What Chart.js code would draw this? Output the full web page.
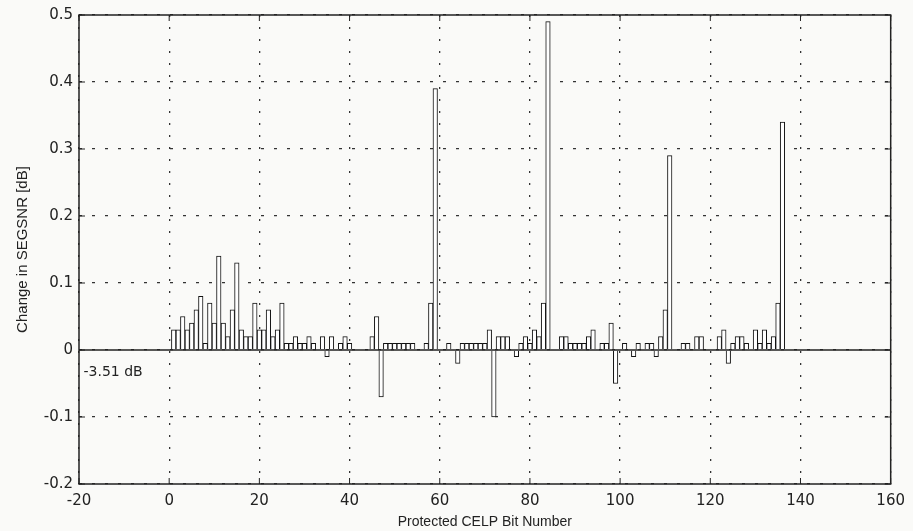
<!DOCTYPE html>
<html>
<head>
<meta charset="utf-8">
<script src="https://cdn.jsdelivr.net/npm/chart.js@4.4.1/dist/chart.umd.min.js"></script>
<style>
  html, body { margin: 0; padding: 0; background: #fafaf8; }
  #wrap { width: 913px; height: 531px; }
</style>
</head>
<body>
<div id="wrap"><canvas id="snrChart"></canvas></div>
<script>
// Protected CELP bit numbers (categories)
const bitNumbers = Array.from({ length: 136 }, (_, i) => i + 1);

// Change in SEGSNR [dB] per bit
const snrChange = [
    0.03, 0.03, 0.05, 0.03, 0.04, 0.06, 0.08, 0.01, 0.07, 0.04,   // 1-10
    0.14, 0.04, 0.02, 0.06, 0.13, 0.03, 0.02, 0.02, 0.07, 0.03,   // 11-20
    0.03, 0.06, 0.02, 0.03, 0.07, 0.01, 0.01, 0.02, 0.01, 0.01,   // 21-30
    0.02, 0.01, 0, 0.02, -0.01, 0.02, 0, 0.01, 0.02, 0.01,        // 31-40
    0, 0, 0, 0, 0.02, 0.05, -0.07, 0.01, 0.01, 0.01,              // 41-50
    0.01, 0.01, 0.01, 0.01, 0, 0, 0.01, 0.07, 0.39, 0,            // 51-60
    0, 0.01, 0, -0.02, 0.01, 0.01, 0.01, 0.01, 0.01, 0.01,        // 61-70
    0.03, -0.10, 0.02, 0.02, 0.02, 0, -0.01, 0.01, 0.02, 0.01,    // 71-80
    0.03, 0.02, 0.07, 0.49, 0, 0, 0.02, 0.02, 0.01, 0.01,         // 81-90
    0.01, 0.01, 0.02, 0.03, 0, 0.01, 0.01, 0.04, -0.05, 0,        // 91-100
    0.01, 0, -0.01, 0.01, 0, 0.01, 0.01, -0.01, 0.02, 0.06,       // 101-110
    0.29, 0, 0, 0.01, 0.01, 0, 0.02, 0.02, 0, 0,                  // 111-120
    0, 0.02, 0.03, -0.02, 0.01, 0.02, 0.02, 0.01, 0, 0.03,        // 121-130
    0.01, 0.03, 0.01, 0.02, 0.07, 0.34                            // 131-136
];

// Axis ticks
const xTicks = [-20, 0, 20, 40, 60, 80, 100, 120, 140, 160];
const yTicks = [-0.2, -0.1, 0, 0.1, 0.2, 0.3, 0.4, 0.5];

// Note written inside the plot
const noteText = '-3.51 dB';
const noteAt = { x: -19, y: -0.033 };

const fontFamily = '"Liberation Sans", Arial, Helvetica, sans-serif';
const tickFamily = '"DejaVu Sans", "Liberation Sans", sans-serif';
Chart.defaults.font.family = fontFamily;
Chart.defaults.color = '#222';

// Frame, zero line, inward ticks and the note
const framePlugin = {
    id: 'frame',
    beforeDraw: function(chart) {
        const ctx = chart.ctx;
        ctx.save();
        ctx.fillStyle = '#fafaf8';
        ctx.fillRect(0, 0, chart.width, chart.height);
        ctx.restore();
    },
    afterDatasetsDraw: function(chart) {
        const ctx = chart.ctx;
        const a = chart.chartArea;
        const xs = chart.scales.x;
        const ys = chart.scales.y;
        ctx.save();
        ctx.setLineDash([]);
        ctx.strokeStyle = '#222';

        // zero line
        ctx.lineWidth = 1.3;
        const y0 = ys.getPixelForValue(0);
        ctx.beginPath();
        ctx.moveTo(a.left, y0);
        ctx.lineTo(a.right, y0);
        ctx.stroke();

        // inward ticks
        ctx.lineWidth = 1;
        xTicks.forEach(function(v) {
            const px = xs.getPixelForValue(v);
            ctx.beginPath();
            ctx.moveTo(px, a.bottom); ctx.lineTo(px, a.bottom - 6);
            ctx.moveTo(px, a.top); ctx.lineTo(px, a.top + 6);
            ctx.stroke();
        });
        yTicks.forEach(function(v) {
            const py = ys.getPixelForValue(v);
            ctx.beginPath();
            ctx.moveTo(a.left, py); ctx.lineTo(a.left + 6, py);
            ctx.moveTo(a.right, py); ctx.lineTo(a.right - 6, py);
            ctx.stroke();
        });

        // frame
        ctx.lineWidth = 1.5;
        ctx.strokeRect(a.left, a.top, a.right - a.left, a.bottom - a.top);

        // note
        ctx.fillStyle = '#222';
        ctx.font = '14px ' + tickFamily;
        ctx.textBaseline = 'middle';
        ctx.textAlign = 'left';
        ctx.fillText(noteText, xs.getPixelForValue(noteAt.x), ys.getPixelForValue(noteAt.y));
        ctx.restore();
    }
};

const points = bitNumbers.map(function(bit, i) {
    return { x: bit, y: snrChange[i] };
});

new Chart(document.getElementById('snrChart'), {
    type: 'bar',
    data: {
        datasets: [{
            data: points,
            backgroundColor: '#ffffff',
            borderColor: '#111',
            borderWidth: 1,
            categoryPercentage: 1.0,
            barPercentage: 1.0
        }]
    },
    options: {
        responsive: true,
        maintainAspectRatio: false,
        animation: false,
        layout: { padding: { top: 14, right: 22, left: 0, bottom: 0 } },
        plugins: {
            legend: { display: false },
            tooltip: { enabled: false }
        },
        scales: {
            x: {
                type: 'linear',
                min: -20,
                max: 160,
                offset: false,
                afterBuildTicks: function(scale) {
                    scale.ticks = xTicks.map(function(v) { return { value: v }; });
                },
                afterFit: function(scale) { scale.height = 47; },
                ticks: {
                    font: { size: 15, family: tickFamily },
                    padding: 8,
                    maxRotation: 0,
                    callback: function(v) { return String(v); }
                },
                grid: {
                    color: '#333',
                    lineWidth: 1.3,
                    drawTicks: false,
                    offset: false
                },
                border: { display: false, dash: [2, 10] },
                title: {
                    display: true,
                    text: 'Protected CELP Bit Number',
                    font: { size: 14 },
                    padding: { top: 0, bottom: 0 }
                }
            },
            y: {
                min: -0.2,
                max: 0.5,
                afterBuildTicks: function(scale) {
                    scale.ticks = yTicks.map(function(v) { return { value: v }; });
                },
                afterFit: function(scale) { scale.width = 79; },
                ticks: {
                    font: { size: 15, family: tickFamily },
                    padding: 6,
                    callback: function(v) {
                        return Math.abs(v) < 1e-9 ? '0' : v.toFixed(1);
                    }
                },
                grid: {
                    color: '#333',
                    lineWidth: 1.3,
                    drawTicks: false
                },
                border: { display: false, dash: [3, 10] },
                title: {
                    display: true,
                    text: 'Change in SEGSNR [dB]',
                    font: { size: 15 },
                    padding: { top: 14, bottom: 0 }
                }
            }
        }
    },
    plugins: [framePlugin]
});
</script>
</body>
</html>
